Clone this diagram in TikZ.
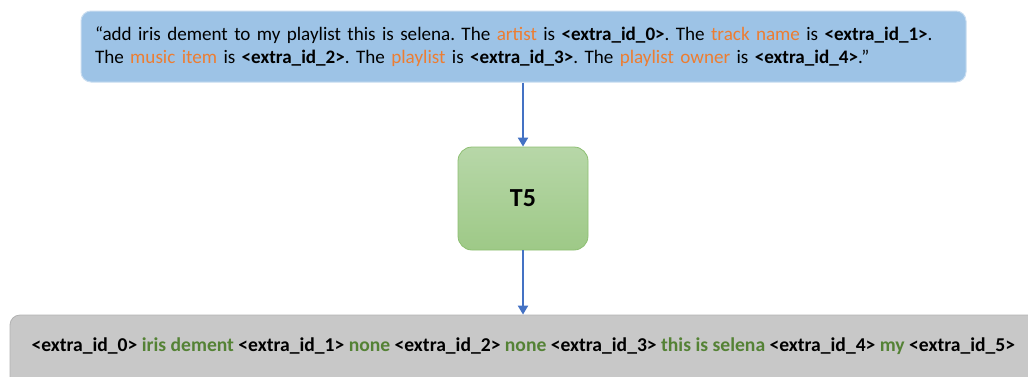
\documentclass[tikz,border=0pt]{standalone}
\usepackage{fontspec}
\setmainfont{Carlito}
\frenchspacing
\usetikzlibrary{arrows.meta}
\definecolor{promptblue}{HTML}{9DC3E6}
\definecolor{promptline}{HTML}{C9DDF0}
\definecolor{slotorange}{HTML}{ED7D31}
\definecolor{modeltop}{HTML}{B7D7A8}
\definecolor{modelbot}{HTML}{9EC987}
\definecolor{modelline}{HTML}{8DBF72}
\definecolor{outgray}{HTML}{C8C8C8}
\definecolor{outline}{HTML}{B2B2B2}
\definecolor{valgreen}{HTML}{548235}
\definecolor{flowblue}{HTML}{4472C4}
\newcommand{\slot}[1]{\textcolor{slotorange}{#1}}
\newcommand{\val}[1]{\textcolor{valgreen}{#1}}
\begin{document}
\begin{tikzpicture}[x=1pt,y=-1pt]
% estilos
\tikzset{
  prompt/.style={rectangle, rounded corners=10pt, draw=promptline, line width=1pt, fill=promptblue, minimum width=885pt, minimum height=71pt, text width=857pt, align=left, font=\fontsize{19.1}{23}\selectfont},
  model/.style={rectangle, rounded corners=14pt, draw=modelline, line width=0.8pt, top color=modeltop, bottom color=modelbot, minimum width=130pt, minimum height=103pt, font=\fontsize{26}{28}\selectfont\bfseries},
  output/.style={rectangle, rounded corners=10pt, draw=outline, line width=0.8pt, fill=outgray, minimum width=1040pt, minimum height=75pt},
  flow/.style={-{Triangle[width=10pt,length=9pt]}, draw=flowblue, line width=2pt}
}
\useasboundingbox (0,0) rectangle (1028,376);
\clip (0,0) rectangle (1028,376);

% entrada
\node[prompt] (entrada) at (523.5,46.5) {\textquotedblleft add iris dement to my playlist this is selena. The \slot{artist} is \textbf{<extra\_id\_0>}. The \slot{track name} is \textbf{<extra\_id\_1>}.\\The \slot{music item} is \textbf{<extra\_id\_2>}. The \slot{playlist} is \textbf{<extra\_id\_3>}. The \slot{playlist owner} is \textbf{<extra\_id\_4>}.\textquotedblright};

% modelo
\node[model] (t5) at (523,198.5) {T5};

% saida
\node[output] (saida) at (530,352.5) {};
\node[font=\fontsize{19.6}{23}\selectfont\bfseries, anchor=west] (alvo) at (28,346) {<extra\_id\_0> \val{iris dement} <extra\_id\_1> \val{none} <extra\_id\_2> \val{none} <extra\_id\_3> \val{this is selena} <extra\_id\_4> \val{my} <extra\_id\_5>};

% setas
\draw[flow] (entrada.south -| t5.north) -- (t5.north);
\draw[flow] (t5.south) -- (t5.south |- saida.north);
\end{tikzpicture}
\end{document}
